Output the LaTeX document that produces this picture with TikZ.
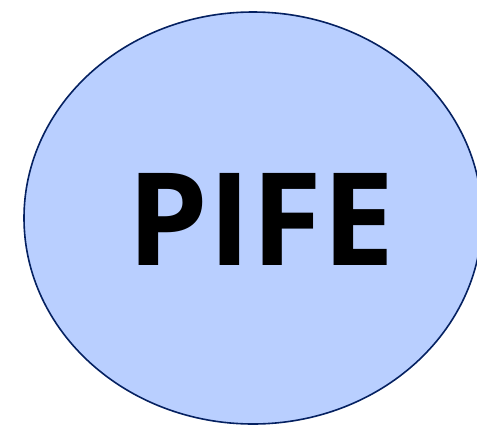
\documentclass[tikz,border=0pt]{standalone}
\usepackage{fontspec}
\setmainfont{Open Sans}
\usepackage{tikz}
\usetikzlibrary{shapes.geometric, positioning}
\definecolor{pifefill}{RGB}{185,207,255}
\definecolor{pifeline}{RGB}{5,33,97}

\begin{document}
\begin{tikzpicture}[x=1pt, y=-1pt]
        \useasboundingbox (0,0) rectangle (477,424);
        % Ellipse with title
        \node[draw=pifeline, fill=pifefill, line width=1.6pt, ellipse, minimum width=458pt, minimum height=412pt, inner sep=0pt] (pife) at (253,218) {};
        \node[font=\bfseries\fontsize{129}{129}\selectfont, inner sep=0pt] (title) at (261,219) {PIFE};
    \end{tikzpicture}
\end{document}
